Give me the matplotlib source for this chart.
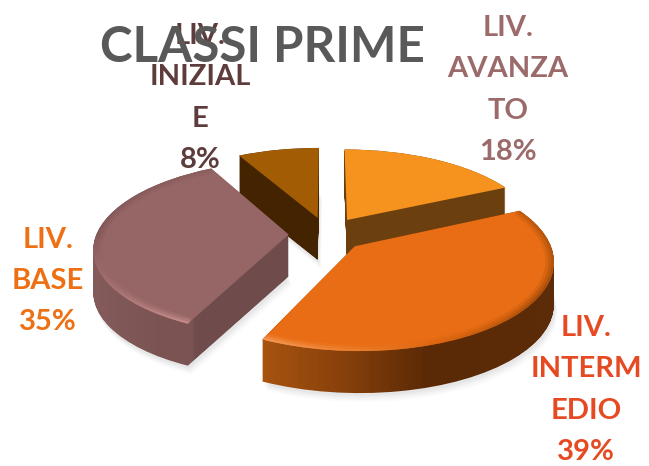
import numpy as np
import matplotlib
matplotlib.use("Agg")
import matplotlib.pyplot as plt
from matplotlib.collections import LineCollection
from matplotlib.colors import LinearSegmentedColormap
from matplotlib.patches import PathPatch
from matplotlib.path import Path

# -------------------------
# Data
# -------------------------
categories = ["LIV. AVANZATO", "LIV. INTERMEDIO", "LIV. BASE", "LIV. INIZIALE"]
values = [18, 39, 35, 8]
label_lines = [
    ["LIV.", "AVANZA", "TO"],
    ["LIV.", "INTERM", "EDIO"],
    ["LIV.", "BASE"],
    ["LIV.", "INIZIAL", "E"],
]
title = "CLASSI PRIME"

# -------------------------
# Style
# -------------------------
top_colors = ["#f6921e", "#e96d14", "#966565", "#a25c04"]
label_colors = ["#9b6a6a", "#e64a22", "#ed7014", "#5e3c3c"]
label_pos = [(508, 90), (586, 390), (48, 281), (200, 98)]
explode = [0.2, 0.2, 0.2, 0.2]
draw_order = [3, 0, 2, 1]

# (fraction of image width, colour) stops of the side walls
wall_stops = [
    [(0, "#6b400e"), (1, "#6b400e")],
    [(0, "#a85410"), (0.40, "#a85410"), (0.52, "#8a420c"), (0.66, "#5a2a06"), (1, "#5e2c08")],
    [(0, "#855b5b"), (0.14, "#855b5b"), (0.25, "#7b5353"), (0.296, "#7b5353"), (0.30, "#6f4b4b"), (1, "#6f4b4b")],
    [(0, "#432300"), (1, "#432300")],
]

# (fraction along the arc, colour) stops of the bevel on the outer edge
rim_stops = {
    1: [(0, "#f8a468"), (0.14, "#f08a3a"), (0.32, "#d9640f"), (0.61, "#8f440a"), (1, "#b5570e")],
    2: [(0, "#8a5f5f"), (0.49, "#7e5656"), (0.72, "#a87272"), (1, "#d39696")],
}

# Perspective of the pie plane, in pixels
CX, CY = 327, 234
RX, RY = 192, 85
PERSP = 0.15
DEPTH = 42


def project(xy, drop=0):
    xy = np.asarray(xy)
    s = 1 / (1 + PERSP * xy[:, 1])
    return np.column_stack([CX + RX * xy[:, 0] * s, CY - RY * xy[:, 1] * s + drop])


fig = plt.figure(figsize=(6.49, 4.66), dpi=100)
ax = fig.add_axes([0, 0, 1, 1])

# pie only used for its wedge geometry, then projected onto the main axes
helper = fig.add_axes([0, 0, 0.1, 0.1])
wedges, _ = helper.pie(values, explode=explode, startangle=90, counterclock=False, colors=top_colors)
helper.set_visible(False)

# back wedges first
for order, i in enumerate(draw_order):
    w = wedges[i]
    base = w.get_path()
    verts, codes = base.vertices, base.codes

    # soft shadow
    for off, a in [(9, 0.02), (7, 0.03), (5, 0.04), (3, 0.05)]:
        shadow = Path(project(verts, DEPTH + off) + [off * 0.4, 0], codes)
        ax.add_patch(PathPatch(shadow, fc="#555555", ec="none", alpha=a, zorder=1))

    # side wall: the top face swept down, filled with a gradient
    sweep = [Path(project(verts, d), codes) for d in range(0, DEPTH + 1)]
    wall = Path.make_compound_path(*sweep)
    cmap = LinearSegmentedColormap.from_list("wall", wall_stops[i])
    im = ax.imshow(np.linspace(0, 1, 649)[None, :], cmap=cmap, extent=(0, 649, 466, 0),
                   aspect="auto", zorder=2 + order * 2)
    im.set_clip_path(wall, ax.transData)

    # top face
    face = PathPatch(Path(project(verts), codes), fc=top_colors[i], ec="none", zorder=3 + order * 2)
    ax.add_patch(face)

    # bevel
    if i in rim_stops:
        cmap = LinearSegmentedColormap.from_list("rim", rim_stops[i])
        th = np.linspace(w.theta1, w.theta2, 200)
        colors = cmap(np.linspace(0, 1, 199))
        for frac, lw, a in [(0.975, 5, 0.2), (0.985, 3.5, 0.35), (0.995, 2, 0.6)]:
            arc = np.column_stack([
                w.center[0] + w.r * frac * np.cos(np.deg2rad(th)),
                w.center[1] + w.r * frac * np.sin(np.deg2rad(th)),
            ])
            px = project(arc)
            segs = np.stack([px[:-1], px[1:]], axis=1)
            lc = LineCollection(segs, colors=colors, linewidths=lw, alpha=a, zorder=3 + order * 2)
            ax.add_collection(lc)
            lc.set_clip_path(face)

# -------------------------
# Labels and title
# -------------------------
for lines, v, pos, col in zip(label_lines, values, label_pos, label_colors):
    ax.text(pos[0], pos[1], "\n".join(lines + [f"{v}%"]), color=col, family="Lato",
            weight="bold", fontsize=21, ha="center", va="center",
            linespacing=1.72, zorder=20)

ax.text(262, 48, title, color="#595959", family="Lato", weight="bold", fontsize=35.5,
        ha="center", va="center", zorder=21)

ax.set_xlim(0, 649)
ax.set_ylim(466, 0)
ax.axis("off")

fig.savefig("out.png", dpi=100, facecolor="white")
